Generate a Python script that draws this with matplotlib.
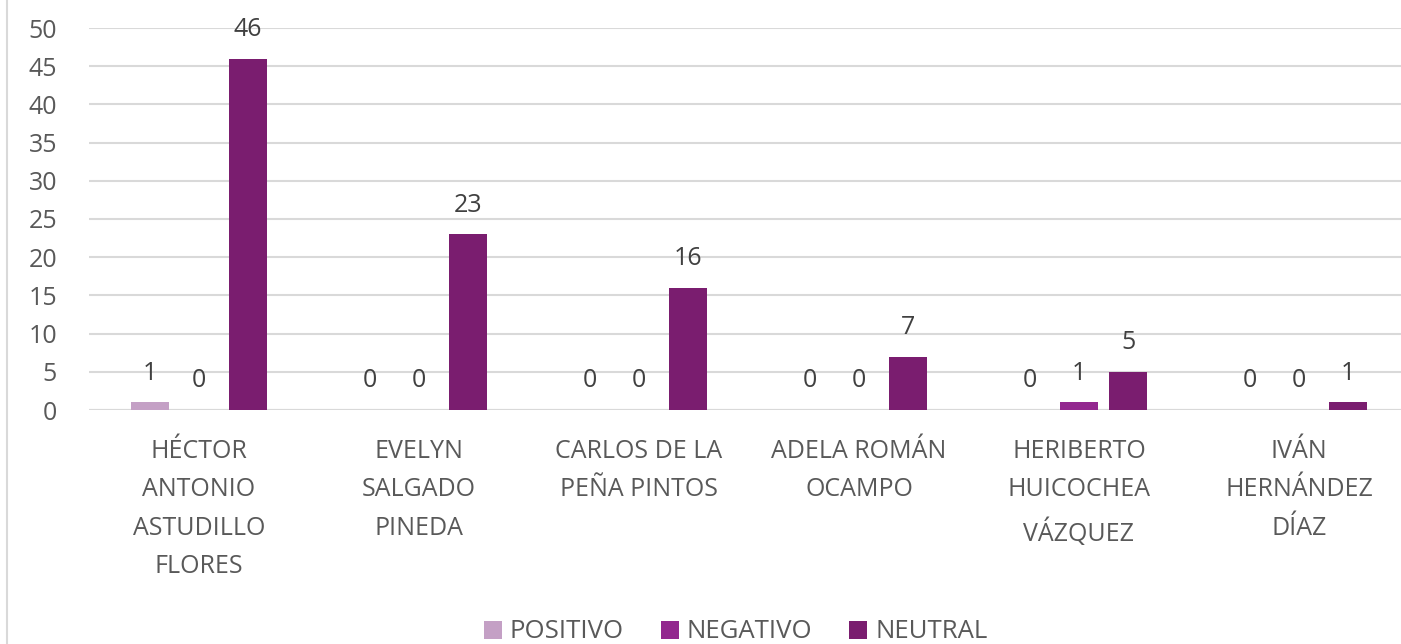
import numpy as np
import matplotlib.pyplot as plt

candidatos = ["HÉCTOR\nANTONIO\nASTUDILLO\nFLORES", "EVELYN\nSALGADO\nPINEDA",
              "CARLOS DE LA\nPEÑA PINTOS", "ADELA ROMÁN\nOCAMPO",
              "HERIBERTO\nHUICOCHEA\nVÁZQUEZ", "IVÁN\nHERNÁNDEZ\nDÍAZ"]
positivo = [1, 0, 0, 0, 0, 0]
negativo = [0, 0, 0, 0, 1, 0]
neutral = [46, 23, 16, 7, 5, 1]

series = [("POSITIVO", positivo, "#C4A0C5"),
          ("NEGATIVO", negativo, "#93278F"),
          ("NEUTRAL", neutral, "#7A1D6F")]

plt.rcParams['font.family'] = ['Open Sans', 'DejaVu Sans']
fig = plt.figure(figsize=(14.01, 6.44), dpi=100)
ax = fig.add_axes([89 / 1401, 1 - 410 / 644, 1320 / 1401, 382 / 644])

x = np.arange(len(candidatos))
w = 0.173
off = 0.223
for i, (name, vals, col) in enumerate(series):
    xs = x + (i - 1) * off
    ax.bar(xs, vals, width=w, color=col, label=name, zorder=3)
    for xi, v in zip(xs, vals):
        ax.annotate(str(v), (xi, v), xytext=(0, 12), textcoords="offset points",
                    ha="center", va="bottom", fontsize=18, color="#404040")

ax.set_xlim(-0.5, len(candidatos) - 0.5)
ax.set_ylim(0, 50)
ax.set_yticks(range(0, 51, 5))
ax.yaxis.grid(True, color="#D9D9D9", linewidth=1.5, zorder=0)
ax.set_axisbelow(True)
for s in ax.spines.values():
    s.set_visible(False)
ax.tick_params(axis="both", length=0, labelsize=18, colors="#595959")
ax.tick_params(axis="y", pad=23)
ax.tick_params(axis="x", pad=21)
ax.set_xticks(x)
ax.set_xticklabels(candidatos, linespacing=1.7)
ax.axhline(0, color="#D9D9D9", linewidth=1.5, zorder=2)

fig.add_artist(plt.Line2D([7 / 1401, 7 / 1401], [0, 1], color="#D9D9D9", linewidth=1.5))

fig.legend(loc="center", bbox_to_anchor=(0.525, 1 - 632 / 644), ncol=3, frameon=False,
           fontsize=18.5, handlelength=0.7, handleheight=0.7, handletextpad=0.3,
           columnspacing=1.45, labelcolor="#595959", borderaxespad=0)

fig.savefig("out.png", dpi=100)
